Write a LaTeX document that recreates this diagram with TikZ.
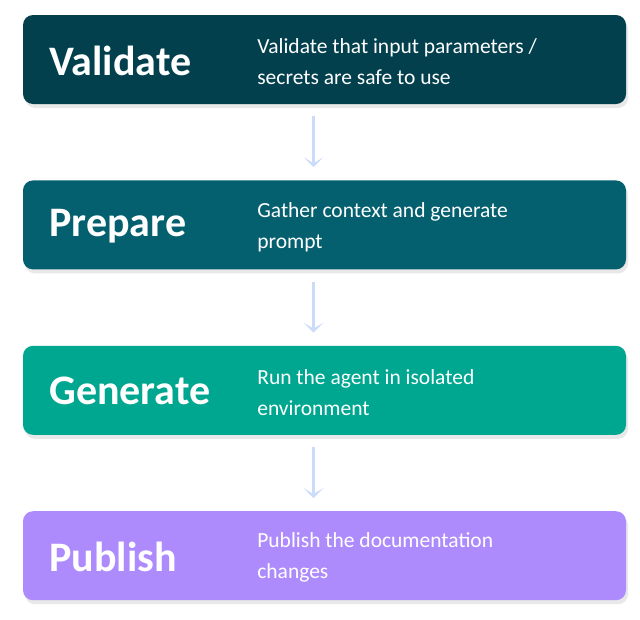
\documentclass[tikz,border=0pt]{standalone}
\usepackage{fontspec}
\setmainfont{Carlito}
\usetikzlibrary{positioning, arrows.meta, shadows}
\definecolor{mynavy}{RGB}{3,64,78}
\definecolor{mypetrol}{RGB}{4,96,111}
\definecolor{myteal}{RGB}{0,167,144}
\definecolor{mylilac}{RGB}{174,139,253}
\definecolor{myarrow}{RGB}{202,220,250}
\tikzset{
  stage/.style={rectangle, rounded corners=10pt, minimum width=603pt,
    minimum height=89pt, inner sep=0pt,
    drop shadow={opacity=0.18, shadow xshift=2pt, shadow yshift=-4pt}},
  title/.style={anchor=west, text=white, font=\fontsize{42}{46}\selectfont\bfseries},
  descr/.style={anchor=west, text=white, align=left,
    font=\fontsize{21.5}{31}\selectfont},
  arrow/.style={-{Stealth[length=10pt, width=20pt, inset=6pt]},
    line width=3pt, color=myarrow, shorten <=12pt, shorten >=13pt}
}
\begin{document}
\begin{tikzpicture}[x=1pt, y=-1pt]
  \useasboundingbox (0,0) rectangle (640,619);
  % four stages stacked top to bottom
  \node[stage, fill=mynavy] (val) at (324.5,59.5) {};
  \node[stage, fill=mypetrol, below=76pt of val] (prep) {};
  \node[stage, fill=myteal, below=76pt of prep] (gen) {};
  \node[stage, fill=mylilac, below=76pt of gen] (pub) {};
  % stage names
  \node[title] at ([xshift=23pt, yshift=-1pt]val.west) {Validate};
  \node[title] at ([xshift=23pt, yshift=-1pt]prep.west) {Prepare};
  \node[title] at ([xshift=23pt, yshift=-1pt]gen.west) {Generate};
  \node[title] at ([xshift=23pt, yshift=-1pt]pub.west) {Publish};
  % descriptions
  \node[descr] at ([xshift=231pt, yshift=-2pt]val.west) {Validate that input parameters /\\secrets are safe to use};
  \node[descr] at ([xshift=231pt, yshift=-2pt]prep.west) {Gather context and generate\\prompt};
  \node[descr] at ([xshift=231pt, yshift=-2pt]gen.west) {Run the agent in isolated\\environment};
  \node[descr] at ([xshift=231pt, yshift=-2pt]pub.west) {Publish the documentation\\changes};
  % arrows between stages
  \draw[arrow] ([xshift=-11pt]val.south) -- ([xshift=-11pt]prep.north);
  \draw[arrow] ([xshift=-11pt]prep.south) -- ([xshift=-11pt]gen.north);
  \draw[arrow] ([xshift=-11pt]gen.south) -- ([xshift=-11pt]pub.north);
\end{tikzpicture}
\end{document}
